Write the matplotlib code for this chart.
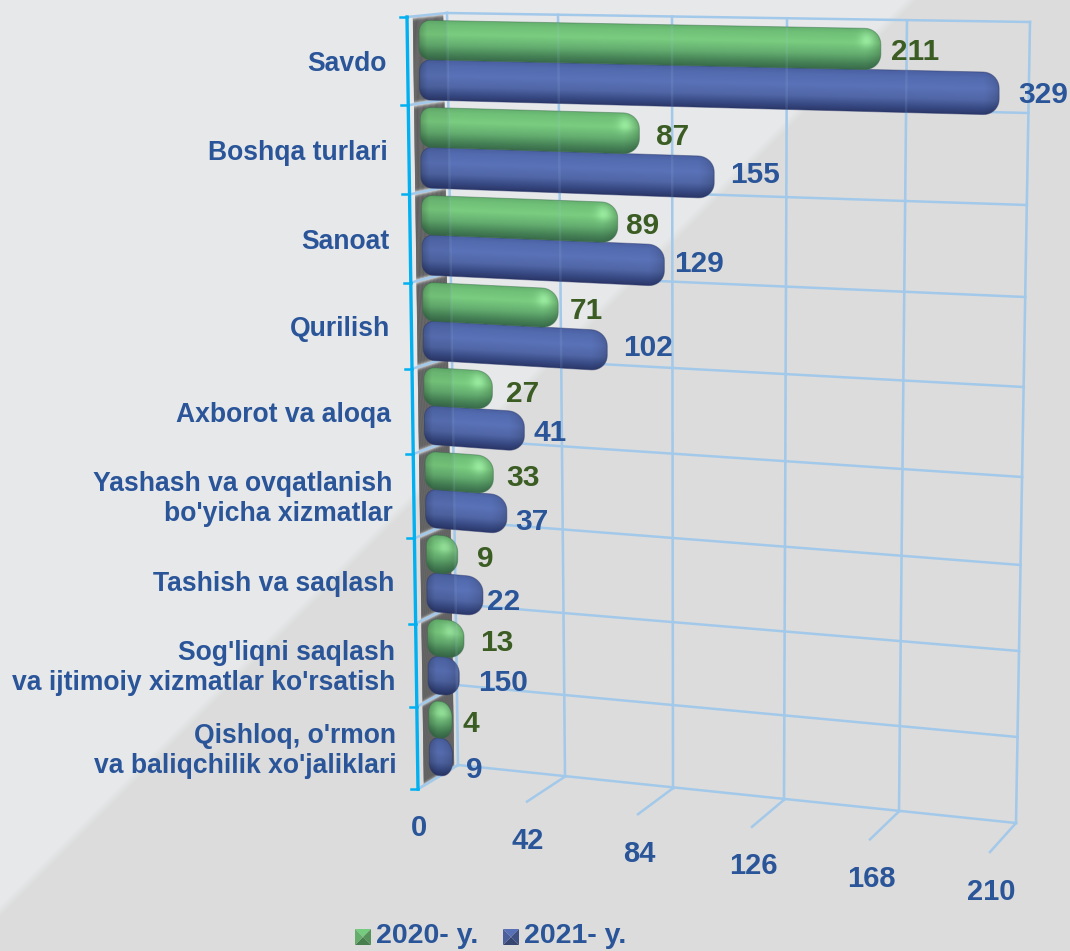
import numpy as np
import matplotlib
matplotlib.use('Agg')
import matplotlib.pyplot as plt
from matplotlib.patches import Polygon

plt.rcParams['font.family'] = ['Liberation Sans', 'DejaVu Sans']

categories = ['Savdo', 'Boshqa turlari', 'Sanoat', 'Qurilish', 'Axborot va aloqa',
              "Yashash va ovqatlanish\nbo'yicha xizmatlar", 'Tashish va saqlash',
              "Sog'liqni saqlash\nva ijtimoiy xizmatlar ko'rsatish",
              "Qishloq, o'rmon\nva baliqchilik xo'jaliklari"]
# printed numbers, they do not agree with the bar lengths in the source chart
labels_2020 = [211, 87, 89, 71, 27, 33, 9, 13, 4]
labels_2021 = [329, 155, 129, 102, 41, 37, 22, 150, 9]
# bar lengths read against the value axis
length_2020 = [166, 81, 73, 51, 26, 26, 12, 14, 9]
length_2021 = [206, 108, 90, 69, 38, 31, 21.5, 12, 9]
axis_ticks = [0, 42, 84, 126, 168, 210]
series_names = ['2020- y.', '2021- y.']

# perspective of the 3d box, in pixels
WALL_TOP_X = [447, 558, 672, 787, 907, 1030]
WALL_BOTTOM_X = [458, 565, 673, 784, 899, 1016]
WALL_LEFT_Y = [13, 99, 186, 272, 356, 439, 521, 604, 685, 765]
WALL_RIGHT_Y = [22, 113, 205, 297, 387, 477, 565, 651, 737, 823]
DEPTH_DX = [-40, -38, -35, -32, -29, -26]
BAR_DEPTH = 0.7

BLUE = '#2a5599'
DKGREEN = '#3b5d23'
GRID = '#a3c9ea'
AXIS = '#00b0f0'

GREEN_STOPS = [(0, (100, 176, 110)), (.12, (112, 192, 120)), (.35, (122, 205, 128)),
               (.62, (100, 174, 112)), (.85, (70, 130, 86)), (1, (56, 106, 74))]
BLUE_STOPS = [(0, (74, 96, 162)), (.12, (82, 106, 174)), (.38, (90, 114, 184)),
              (.65, (80, 102, 166)), (.85, (56, 74, 132)), (1, (42, 54, 104))]


def project(v, row, depth=0.0):
    # value, row position (0 top .. 9 bottom), depth (0 back wall .. 1 front)
    f = row / 9
    ticks = np.array(WALL_TOP_X) + f * (np.array(WALL_BOTTOM_X) - np.array(WALL_TOP_X))
    x = np.interp(v, axis_ticks, ticks) + depth * np.interp(v, axis_ticks, DEPTH_DX)
    yl = np.interp(row, range(10), WALL_LEFT_Y)
    yr = np.interp(row, range(10), WALL_RIGHT_Y)
    s = v / 210
    y = yl + s * (yr - yl) + depth * ((4 + 20 * f) + s * (2 + 3 * f))
    return x, y


def wall_x_at(y):
    return np.interp(y, [13, 765], [447, 458])


def draw_bar(ax, row, lane_top, lane_bot, value, stops, z):
    x0, yt0 = project(0, row + lane_top, BAR_DEPTH)
    x1, yt1 = project(value, row + lane_top, BAR_DEPTH)
    _, yb0 = project(0, row + lane_bot, BAR_DEPTH)
    _, yb1 = project(value, row + lane_bot, BAR_DEPTH)
    st = (yt1 - yt0) / (x1 - x0)
    sb = (yb1 - yb0) / (x1 - x0)
    top = lambda x: yt0 + (x - x0) * st
    bot = lambda x: yb0 + (x - x0) * sb

    L = x1 - x0
    H = yb0 - yt0
    rx = min(16, L * 0.48)
    rl = min(11, L * 0.4)
    wr = 15 / H
    wl = 11 / H
    a = np.linspace(0, np.pi / 2, 10)
    # rounded outline in (x, fraction of bar height)
    pts = []
    pts += [(x0 + rl - rl * np.cos(t), wl - wl * np.sin(t)) for t in a]
    pts += [(x1 - rx + rx * np.sin(t), wr - wr * np.cos(t)) for t in a]
    pts += [(x1 - rx + rx * np.cos(t), 1 - wr + wr * np.sin(t)) for t in a]
    pts += [(x0 + rl - rl * np.sin(t), 1 - wl + wl * np.cos(t)) for t in a]
    outline = [(x, top(x) + w * (bot(x) - top(x))) for x, w in pts]

    xs = np.arange(np.floor(x0) - 1, np.ceil(x1) + 2, 0.5)
    ymin = min(yt0, yt1) - 2
    ymax = max(yb0, yb1) + 2
    ys = np.arange(ymin, ymax, 0.5)
    X, Y = np.meshgrid(xs, ys)
    T = np.clip((Y - top(X)) / (bot(X) - top(X)), 0, 1)
    pos = [s[0] for s in stops]
    rgb = np.dstack([np.interp(T, pos, [s[1][i] for s in stops]) for i in range(3)])
    # rounded ends get darker, the part in front of the wall is a bit darker too
    end = np.clip((x1 - X) / rx, 0, 1)
    rgb *= (0.78 + 0.22 * np.sqrt(end))[..., None]
    start = np.clip((X - x0) / 8, 0, 1)
    rgb *= (0.82 + 0.18 * start)[..., None]
    rgb *= np.where(X < wall_x_at(Y), 0.94, 1.0)[..., None]
    if stops is GREEN_STOPS:
        d2 = ((X - (x1 - rx * 0.85)) / 8) ** 2 + ((Y - (top(X) + 0.28 * H)) / 8) ** 2
        rgb += 34 * np.exp(-d2)[..., None]
    rgb = np.clip(rgb / 255, 0, 1)
    im = ax.imshow(rgb, extent=(xs[0], xs[-1], ys[-1], ys[0]), origin='upper',
                   aspect='auto', interpolation='bilinear', zorder=z)
    patch = Polygon(outline, closed=True, transform=ax.transData, facecolor='none', edgecolor='none')
    ax.add_patch(patch)
    im.set_clip_path(patch)
    ax.add_patch(Polygon(outline, closed=True, facecolor='none',
                         edgecolor=np.array(stops[-1][1]) / 255, lw=0.7, alpha=0.45, zorder=z))
    return x1, (top(x1) + bot(x1)) / 2


fig = plt.figure(figsize=(10.7, 9.51), dpi=100)
ax = fig.add_axes([0, 0, 1, 1])
W, H = 1070, 951

# background, two flat greys split by a soft diagonal
xx, yy = np.meshgrid(np.arange(W), np.arange(H))
side = np.clip((xx + yy * 1.0 - 910) / 12 + 0.5, 0, 1)
bg = (1 - side)[..., None] * np.array([231, 232, 234]) + side[..., None] * np.array([220, 220, 220])
ax.imshow(bg / 255, extent=(0, W, H, 0), aspect='auto', zorder=0)

# back wall grid
for v in axis_ticks:
    px = [project(v, r) for r in (0, 9)]
    ax.plot(*zip(*px), color=GRID, lw=1.8, zorder=1)
    px = [project(v, 9), project(v, 9, 1)]
    ax.plot(*zip(*px), color=GRID, lw=1.8, zorder=1)
for r in range(10):
    px = [project(0, r), project(210, r)]
    ax.plot(*zip(*px), color=GRID, lw=1.8, zorder=1)

# dark strip along the side wall
rows = np.linspace(0, 9, 800)
strip_l = np.array([project(0, r, 0.85) for r in rows])
strip_r = np.array([project(0, r, 0.1) for r in rows])
for i in range(len(rows) - 1):
    d = abs(rows[i] - np.round(rows[i]))
    g = 0.37 + 0.5 * np.exp(-(d / 0.03) ** 2)
    ax.fill([strip_l[i, 0], strip_r[i, 0], strip_r[i + 1, 0], strip_l[i + 1, 0]],
            [strip_l[i, 1], strip_r[i, 1], strip_r[i + 1, 1], strip_l[i + 1, 1]],
            color=str(g), lw=0.3, zorder=2)

# side wall row lines and the category axis
for r in range(10):
    px = [project(0, r, 1), project(0, r)]
    ax.plot(*zip(*px), color=GRID, lw=1.8, zorder=3)
    fx, fy = project(0, r, 1)
    ax.plot([fx - 7, fx], [fy, fy], color=AXIS, lw=1.8, zorder=6)
px = [project(0, 0, 1), project(0, 9, 1)]
ax.plot(*zip(*px), color=AXIS, lw=2.4, zorder=6)

# bars and value labels
nudge_2020 = [10, 17, 8, 12, 14, 13, 19, 16, 10]
nudge_2021 = [19, 16, 10, 16, 9, 8, 4, 19, 13]
lift_2021 = [0, -3, -3, -4, 0, 6, 4, 5, 11]
for r in range(len(categories)):
    lift = -0.05 * r / 8
    x2, y2 = draw_bar(ax, r, 0.5 + lift, 0.96 + lift, length_2021[r], BLUE_STOPS, 4)
    x1, y1 = draw_bar(ax, r, 0.05 + lift, 0.5 + lift, length_2020[r], GREEN_STOPS, 5)
    ax.text(x1 + nudge_2020[r], y1 + 3, str(labels_2020[r]), color=DKGREEN, fontsize=21.5,
            fontweight='bold', ha='left', va='center', zorder=8)
    ax.text(x2 + nudge_2021[r], y2 + 1 + lift_2021[r], str(labels_2021[r]), color=BLUE, fontsize=21.5,
            fontweight='bold', ha='left', va='center', zorder=8)

# grid shows faintly through the bars
for v in axis_ticks:
    px = [project(v, r) for r in (0, 9)]
    ax.plot(*zip(*px), color=GRID, lw=1.8, alpha=0.12, zorder=7)

for r, name in enumerate(categories):
    fx, fy = project(0, r + 0.5, 1)
    ax.text(fx - 21, fy + 3, name, color=BLUE, fontsize=19.1, fontweight='bold',
            ha='right', va='center', linespacing=1.22, multialignment='right', zorder=8)

for v in axis_ticks:
    fx, fy = project(v, 9, 1)
    ax.text(fx + 1, fy + 39.5, str(v), color=BLUE, fontsize=21, fontweight='bold',
            ha='center', va='center', zorder=8)

# legend with the little pyramid markers
for name, x, tone in zip(series_names, (355, 503), ((118, 204, 126), (88, 112, 182))):
    c = np.array(tone) / 255
    s = 16
    cx, cy = x + s / 2, 937
    corners = [(x, 929), (x + s, 929), (x + s, 945), (x, 945)]
    shades = [1.0, 0.72, 0.62, 0.85]
    for i, shade in enumerate(shades):
        ax.add_patch(Polygon([corners[i], corners[(i + 1) % 4], (cx, cy)], closed=True,
                             facecolor=c * shade, edgecolor='none', zorder=8))
    ax.text(x + 21, 936, name, color=BLUE, fontsize=20.5, fontweight='bold',
            ha='left', va='center', zorder=8)

ax.set_xlim(0, W)
ax.set_ylim(H, 0)
ax.axis('off')
fig.savefig('out.png', dpi=100)
